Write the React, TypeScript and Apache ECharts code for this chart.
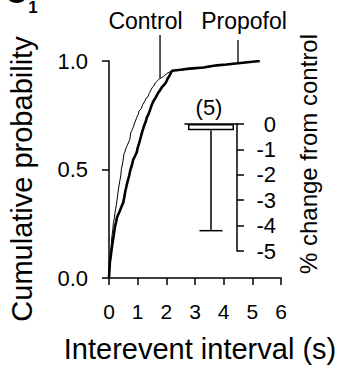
import React, { useEffect, useRef } from "react";
import * as echarts from "echarts";

// ---- data ----
const xTickValues = [0, 1, 2, 3, 4, 5, 6];
const yTickValues = [0, 0.5, 1.0];

// Control (thin line): [interevent interval (s), cumulative probability]
const controlCurve: [number, number][] = [
  [0, 0], [0.02, 0.04], [0.05, 0.09], [0.07, 0.13], [0.1, 0.19], [0.13, 0.22],
  [0.15, 0.25], [0.19, 0.28], [0.21, 0.3], [0.26, 0.34], [0.28, 0.36],
  [0.31, 0.39], [0.33, 0.41], [0.38, 0.45], [0.41, 0.47], [0.43, 0.5],
  [0.49, 0.54], [0.52, 0.57], [0.55, 0.58], [0.6, 0.6], [0.63, 0.61],
  [0.7, 0.63], [0.73, 0.64], [0.76, 0.67], [0.8, 0.68], [0.86, 0.7],
  [0.88, 0.71], [0.97, 0.74], [1.02, 0.755], [1.05, 0.77], [1.12, 0.78],
  [1.18, 0.8], [1.25, 0.815], [1.3, 0.83], [1.36, 0.835], [1.4, 0.85],
  [1.5, 0.876], [1.56, 0.885], [1.62, 0.9], [1.7, 0.91], [1.78, 0.92],
  [1.86, 0.925], [1.95, 0.935], [2.05, 0.945], [2.2, 0.955], [2.6, 0.96],
  [3.0, 0.965], [3.2, 0.968], [3.4, 0.975], [3.76, 0.98], [4.2, 0.985],
  [4.6, 0.99], [5.26, 1.0],
];

// Propofol (thick line)
const propofolCurve: [number, number][] = [
  [0, 0], [0.03, 0.07], [0.06, 0.1], [0.08, 0.12], [0.11, 0.15], [0.14, 0.175],
  [0.18, 0.21], [0.2, 0.23], [0.25, 0.26], [0.28, 0.28], [0.33, 0.295],
  [0.38, 0.31], [0.44, 0.33], [0.49, 0.345], [0.53, 0.37], [0.57, 0.4],
  [0.62, 0.43], [0.66, 0.45], [0.7, 0.47], [0.75, 0.5], [0.8, 0.52],
  [0.84, 0.544], [0.9, 0.56], [0.97, 0.58], [1.0, 0.6], [1.05, 0.62],
  [1.1, 0.645], [1.15, 0.67], [1.22, 0.7], [1.28, 0.72], [1.32, 0.74],
  [1.38, 0.755], [1.42, 0.77], [1.47, 0.79], [1.53, 0.81], [1.62, 0.83],
  [1.7, 0.85], [1.78, 0.865], [1.85, 0.88], [1.92, 0.89], [1.98, 0.9],
  [2.05, 0.92], [2.1, 0.93], [2.2, 0.955], [2.5, 0.96], [2.8, 0.965],
  [3.3, 0.97], [3.76, 0.98], [4.1, 0.984], [4.5, 0.99], [5.26, 1.0],
];

// points the leader lines of the curve labels point at
const controlLeaderAt: [number, number] = [1.78, 0.92];
const propofolLeaderAt: [number, number] = [4.5, 0.99];

// inset: % change from control
const insetCategories = ["Propofol"];
const insetMean = [-0.25];
const insetErrorLow = [-4.2];
const insetN = "(5)";
const insetTickValues = [0, -1, -2, -3, -4, -5];

const FONT = "'Liberation Sans', Arial, Helvetica, sans-serif";

export default function App() {
  const ref = useRef<HTMLDivElement>(null);

  useEffect(() => {
    if (!ref.current) return;
    const chart = echarts.init(ref.current, undefined, { renderer: "svg" });

    chart.setOption({
      animation: false,
      backgroundColor: "#ffffff",
      textStyle: { fontFamily: FONT, color: "#000" },
      grid: [
        { left: 109, top: 61, width: 172, height: 217, outerBoundsMode: "none" },
        { left: 185, top: 124, width: 52, height: 127, outerBoundsMode: "none" },
      ],
      xAxis: [
        {
          type: "value",
          gridIndex: 0,
          min: xTickValues[0],
          max: xTickValues[xTickValues.length - 1],
          interval: 1,
          splitLine: { show: false },
          axisLine: { show: true, onZero: false, lineStyle: { color: "#000", width: 1.5 } },
          axisTick: { show: true, length: 7, lineStyle: { color: "#000", width: 1.5 } },
          axisLabel: { fontSize: 21, color: "#000", margin: 23, fontFamily: FONT },
        },
        {
          type: "category",
          gridIndex: 1,
          data: insetCategories,
          axisLine: { show: true, onZero: true, lineStyle: { color: "#000", width: 1.5 } },
          axisTick: { show: false },
          axisLabel: { show: false },
          splitLine: { show: false },
        },
      ],
      yAxis: [
        {
          type: "value",
          gridIndex: 0,
          min: 0,
          max: 1,
          interval: 0.5,
          splitLine: { show: false },
          axisLine: { show: true, onZero: false, lineStyle: { color: "#000", width: 1.5 } },
          axisTick: { show: true, length: 7, lineStyle: { color: "#000", width: 1.5 } },
          axisLabel: {
            fontSize: 22,
            color: "#000",
            margin: 21,
            fontFamily: FONT,
            formatter: (v: number) => (yTickValues.includes(v) ? v.toFixed(1) : ""),
          },
        },
        {
          type: "value",
          gridIndex: 1,
          position: "right",
          min: insetTickValues[insetTickValues.length - 1],
          max: insetTickValues[0],
          interval: 1,
          splitLine: { show: false },
          axisLine: { show: true, onZero: false, lineStyle: { color: "#000", width: 1.5 } },
          axisTick: { show: true, length: 7, lineStyle: { color: "#000", width: 1.5 } },
          axisLabel: { fontSize: 22, color: "#000", margin: 39, align: "right", fontFamily: FONT },
        },
      ],
      series: [
        {
          name: "Control",
          type: "line",
          xAxisIndex: 0,
          yAxisIndex: 0,
          data: controlCurve,
          showSymbol: false,
          symbol: "none",
          lineStyle: { color: "#000", width: 1 },
          z: 3,
        },
        {
          name: "Propofol",
          type: "line",
          xAxisIndex: 0,
          yAxisIndex: 0,
          data: propofolCurve,
          showSymbol: false,
          symbol: "none",
          lineStyle: { color: "#000", width: 2.6 },
          z: 2,
        },
        {
          name: "% change",
          type: "bar",
          xAxisIndex: 1,
          yAxisIndex: 1,
          data: insetMean,
          barWidth: 46,
          itemStyle: { color: "#fff", borderColor: "#000", borderWidth: 1.5 },
          z: 4,
        },
        {
          name: "error",
          type: "custom",
          xAxisIndex: 1,
          yAxisIndex: 1,
          data: insetMean.map((m, i) => [i, m, insetErrorLow[i]]),
          z: 5,
          renderItem: (params: any, api: any) => {
            const top = api.coord([api.value(0), api.value(1)]);
            const low = api.coord([api.value(0), api.value(2)]);
            const half = 11.5;
            const style = { stroke: "#000", lineWidth: 1.5 };
            return {
              type: "group",
              children: [
                { type: "line", shape: { x1: top[0], y1: top[1], x2: low[0], y2: low[1] }, style },
                { type: "line", shape: { x1: low[0] - half, y1: low[1], x2: low[0] + half, y2: low[1] }, style },
              ],
            };
          },
        },
      ],
    });

    const cPt = chart.convertToPixel({ xAxisIndex: 0, yAxisIndex: 0 }, controlLeaderAt) as number[];
    const pPt = chart.convertToPixel({ xAxisIndex: 0, yAxisIndex: 0 }, propofolLeaderAt) as number[];
    const nPt = chart.convertToPixel({ xAxisIndex: 1, yAxisIndex: 1 }, [insetCategories[0], 0]) as number[];

    chart.setOption({
      graphic: {
        elements: [
          {
            type: "text",
            x: 16,
            y: -8,
            style: { text: "C", font: `bold 30px ${FONT}`, fill: "#000", align: "center", verticalAlign: "middle" },
          },
          {
            type: "text",
            x: 33,
            y: 7,
            style: { text: "1", font: `bold 17px ${FONT}`, fill: "#000", align: "center", verticalAlign: "middle" },
          },
          {
            type: "text",
            x: 145.5,
            y: 21,
            style: { text: "Control", font: `23px ${FONT}`, fill: "#000", align: "center", verticalAlign: "middle" },
          },
          {
            type: "text",
            x: 244,
            y: 21,
            style: { text: "Propofol", font: `23px ${FONT}`, fill: "#000", align: "center", verticalAlign: "middle" },
          },
          {
            type: "line",
            shape: { x1: cPt[0], y1: 35, x2: cPt[0], y2: cPt[1] },
            style: { stroke: "#000", lineWidth: 1.3 },
          },
          {
            type: "line",
            shape: { x1: pPt[0], y1: 40, x2: pPt[0], y2: pPt[1] },
            style: { stroke: "#000", lineWidth: 1.3 },
          },
          {
            type: "text",
            x: nPt[0] - 2,
            y: nPt[1] - 17,
            style: { text: insetN, font: `22px ${FONT}`, fill: "#000", align: "center", verticalAlign: "middle" },
          },
          {
            type: "text",
            x: 200,
            y: 349,
            style: { text: "Interevent interval (s)", font: `29px ${FONT}`, fill: "#000", align: "center", verticalAlign: "middle" },
          },
          {
            type: "text",
            x: 22,
            y: 179,
            rotation: Math.PI / 2,
            style: { text: "Cumulative probability", font: `29px ${FONT}`, fill: "#000", align: "center", verticalAlign: "middle" },
          },
          {
            type: "text",
            x: 308,
            y: 154,
            rotation: Math.PI / 2,
            style: { text: "% change from control", font: `24px ${FONT}`, fill: "#000", align: "center", verticalAlign: "middle" },
          },
        ],
      },
    });

    return () => chart.dispose();
  }, []);

  return (
    <div
      ref={ref}
      style={{ position: "fixed", left: 0, top: 0, width: 343, height: 367, background: "#fff" }}
    />
  );
}
